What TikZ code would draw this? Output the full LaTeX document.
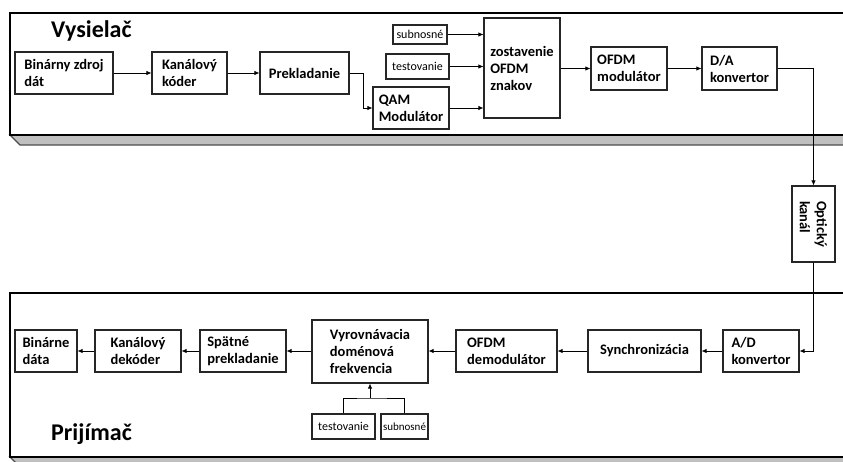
\documentclass[tikz,border=0pt]{standalone}
\usepackage{fontspec}
\setmainfont{Carlito}
\usetikzlibrary{arrows.meta}
\begin{document}
\begin{tikzpicture}[x=1pt,y=-1pt,
  blk/.style={draw=black!85, line width=1.1pt, fill=white, align=left,
    font=\fontsize{14.5}{17}\selectfont\bfseries, inner sep=0pt},
  tag/.style={draw=black!85, line width=1.1pt, fill=white,
    font=\fontsize{12}{14}\selectfont, inner sep=0pt},
  arr/.style={-{Latex[length=5pt,width=4.5pt]}, line width=0.8pt},
  ln/.style={line width=0.8pt},
  frame/.style={draw=black, line width=1.8pt, fill=white},
  shade/.style={draw=black!70, line width=1.2pt, fill=black!25},
  title/.style={font=\fontsize{24}{28}\selectfont\bfseries, anchor=west, inner sep=0pt}]
\useasboundingbox (0,0) rectangle (843,461);
\clip (0,0) rectangle (843,461);

% transmitter and receiver panels with their bevelled shadows
\draw[shade] (10,135) -- (20,145) -- (860,145) -- (860,135) -- cycle;
\draw[frame] (10,13) rectangle (860,135);
\draw[shade] (10,457) -- (20,467) -- (860,467) -- (860,457) -- cycle;
\draw[frame] (10,293) rectangle (860,457);

\node[title] (ttx) at (51,31) {Vysielač};
\node[title] (trx) at (51,434) {Prijímač};

% transmitter chain
\node[blk, minimum width=98pt, minimum height=42pt] (src)  at (64,73)     {Binárny zdroj\\dát};
\node[blk, minimum width=75pt, minimum height=42pt] (cod)  at (189.5,73)  {Kanálový\\kóder};
\node[blk, minimum width=89pt, minimum height=42pt] (prek) at (304.5,73)  {Prekladanie};
\node[blk, minimum width=76pt, minimum height=42pt] (qam)  at (411,108)   {QAM\\Modulátor};
\node[tag, minimum width=54pt, minimum height=19pt] (sub1) at (420,34.5)  {subnosné};
\node[tag, minimum width=63pt, minimum height=25pt] (tst1) at (417.5,66.5){testovanie};
\node[blk, minimum width=76pt, minimum height=100pt] (zost) at (522,68)   {zostavenie\\OFDM\\znakov};
\node[blk, minimum width=76pt, minimum height=43pt] (ofdm) at (629,68.5)  {OFDM\\modulátor};
\node[blk, minimum width=75pt, minimum height=43pt] (da)   at (739.5,68.5){D/A\\konvertor};

% optical channel
\node[blk, minimum width=43pt, minimum height=76pt] (opt) at (813.5,224) {};
\node[rotate=-90, align=left, inner sep=0pt,
  font=\fontsize{14.5}{17}\selectfont\bfseries] (optlbl) at (opt.center) {Optický\\kanál};

% receiver chain
\node[blk, minimum width=76pt, minimum height=42pt]  (ad)   at (761,351)    {A/D\\konvertor};
\node[blk, minimum width=113pt, minimum height=42pt] (sync) at (644.5,351)  {Synchronizácia};
\node[blk, minimum width=101pt, minimum height=42pt] (dem)  at (506.5,351)  {OFDM\\demodulátor};
\node[blk, minimum width=116pt, minimum height=63pt] (vyr)  at (370,351.5)  {Vyrovnávacia\\doménová\\frekvencia};
\node[tag, minimum width=63pt, minimum height=25pt]  (tst2) at (343.5,426.5){testovanie};
\node[tag, minimum width=47pt, minimum height=25pt, font=\fontsize{11}{13}\selectfont] (sub2) at (404.5,426.5){subnosné};
\node[blk, minimum width=86pt, minimum height=42pt]  (spat) at (243,351)    {Spätné\\prekladanie};
\node[blk, minimum width=86pt, minimum height=42pt]  (dek)  at (138,351)    {Kanálový\\dekóder};
\node[blk, minimum width=62pt, minimum height=42pt]  (bin)  at (46,351)     {Binárne\\dáta};

% transmitter connections
\draw[arr] (src.east) -- (cod.west);
\draw[arr] (cod.east) -- (prek.west);
\draw[arr] (prek.east) -- ++(14,0) |- (qam.west);
\draw[arr] (sub1.east) -- (sub1.east -| zost.west);
\draw[arr] (tst1.east) -- (tst1.east -| zost.west);
\draw[arr] (qam.east) -- (qam.east -| zost.west);
\draw[arr] (zost.east |- ofdm.west) -- (ofdm.west);
\draw[arr] (ofdm.east) -- (da.west);
\draw[arr] (da.east) -| (opt.north);

% receiver connections
\draw[arr] (opt.south) |- (ad.east);
\draw[arr] (ad.west) -- (sync.east);
\draw[arr] (sync.west) -- (dem.east);
\draw[arr] (dem.west) -- (dem.west -| vyr.east);
\draw[arr] (vyr.west |- spat.east) -- (spat.east);
\draw[arr] (spat.west) -- (dek.east);
\draw[arr] (dek.west) -- (bin.east);

% pilot and subcarrier inputs to the equaliser
\coordinate (join) at (370,398);
\draw[ln] (tst2.north) |- (join) -| (sub2.north);
\draw[arr] (join) -- (vyr.south);
\end{tikzpicture}
\end{document}
